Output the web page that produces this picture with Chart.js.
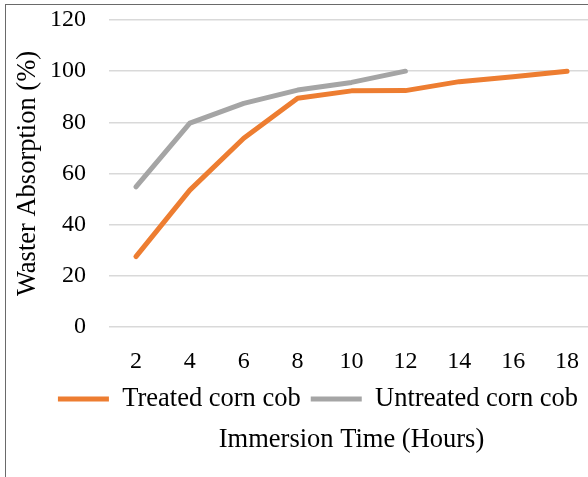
<!DOCTYPE html>
<html>
<head>
<meta charset="utf-8">
<script src="https://cdn.jsdelivr.net/npm/chart.js@4.4.1/dist/chart.umd.min.js"></script>
<style>
  html, body { margin: 0; padding: 0; background: #fff; overflow: hidden; width: 588px; height: 477px; }
  #wrap { position: absolute; left: 0; top: 0; width: 636px; height: 477px; }
  #frame { position: absolute; left: 5px; top: 4px; width: 700px; height: 600px;
           border-top: 1.5px solid #6a6a6a; border-left: 1.5px solid #6a6a6a; pointer-events: none; }
</style>
</head>
<body>
<div id="wrap"><canvas id="c"></canvas></div>
<div id="frame"></div>
<script>
const categories = ['2', '4', '6', '8', '10', '12', '14', '16', '18'];
const treatedValues = [27.5, 53.5, 73.8, 89.4, 92.3, 92.4, 95.9, 97.8, 100];
const untreatedValues = [54.8, 79.7, 87.4, 92.6, 95.6, 100, null, null, null];
const seriesNames = ['Treated corn cob', 'Untreated corn cob'];
const yTitle = 'Waster Absorption (%)';
const xTitle = 'Immersion Time (Hours)';

const FONT = "'Liberation Serif', 'Times New Roman', serif";

const legendShift = {
  id: 'legendShift',
  afterLayout(chart) {
    chart.legend.left += 21;
    chart.legend.right += 21;
  }
};

new Chart(document.getElementById('c'), {
  type: 'line',
  data: {
    labels: categories,
    datasets: [
      { label: seriesNames[0], data: treatedValues, borderColor: '#ED7D31', backgroundColor: '#ED7D31',
        borderWidth: 5, pointRadius: 0, tension: 0, borderCapStyle: 'round', borderJoinStyle: 'round', spanGaps: false },
      { label: seriesNames[1], data: untreatedValues, borderColor: '#A5A5A5', backgroundColor: '#A5A5A5',
        borderWidth: 5, pointRadius: 0, tension: 0, borderCapStyle: 'round', borderJoinStyle: 'round', spanGaps: false }
    ]
  },
  plugins: [legendShift],
  options: {
    responsive: true,
    maintainAspectRatio: false,
    animation: false,
    layout: { padding: { top: 20, right: 42, bottom: 11, left: 0 } },
    plugins: {
      tooltip: { enabled: false },
      legend: {
        position: 'bottom',
        labels: {
          usePointStyle: true, pointStyle: 'line', pointStyleWidth: 51,
          font: { family: FONT, size: 26.5 }, color: '#000', padding: 10
        }
      },
      title: {
        display: true, position: 'bottom', fullSize: false, text: xTitle,
        font: { family: FONT, size: 26.5, weight: 'normal' }, color: '#000',
        padding: { top: 2, bottom: 10 }
      }
    },
    scales: {
      x: {
        offset: true,
        grid: { display: false, drawTicks: false, offset: true },
        border: { display: false },
        ticks: { font: { family: FONT, size: 24 }, color: '#000', padding: 20.7, maxRotation: 0 },
        afterFit: (s) => { s.height = 48.7; }
      },
      y: {
        min: 0, max: 120,
        grid: { color: '#d9d9d9', lineWidth: 1.5, drawTicks: false },
        border: { display: false },
        ticks: { stepSize: 20, font: { family: FONT, size: 24 }, color: '#000', padding: 23 },
        title: { display: true, text: yTitle, font: { family: FONT, size: 26.5 }, color: '#000',
                 padding: { top: 12, bottom: 0 } },
        afterFit: (s) => { s.width = 109; s.paddingTop = 0; s.paddingBottom = 0; }
      }
    }
  }
});
</script>
</body>
</html>
